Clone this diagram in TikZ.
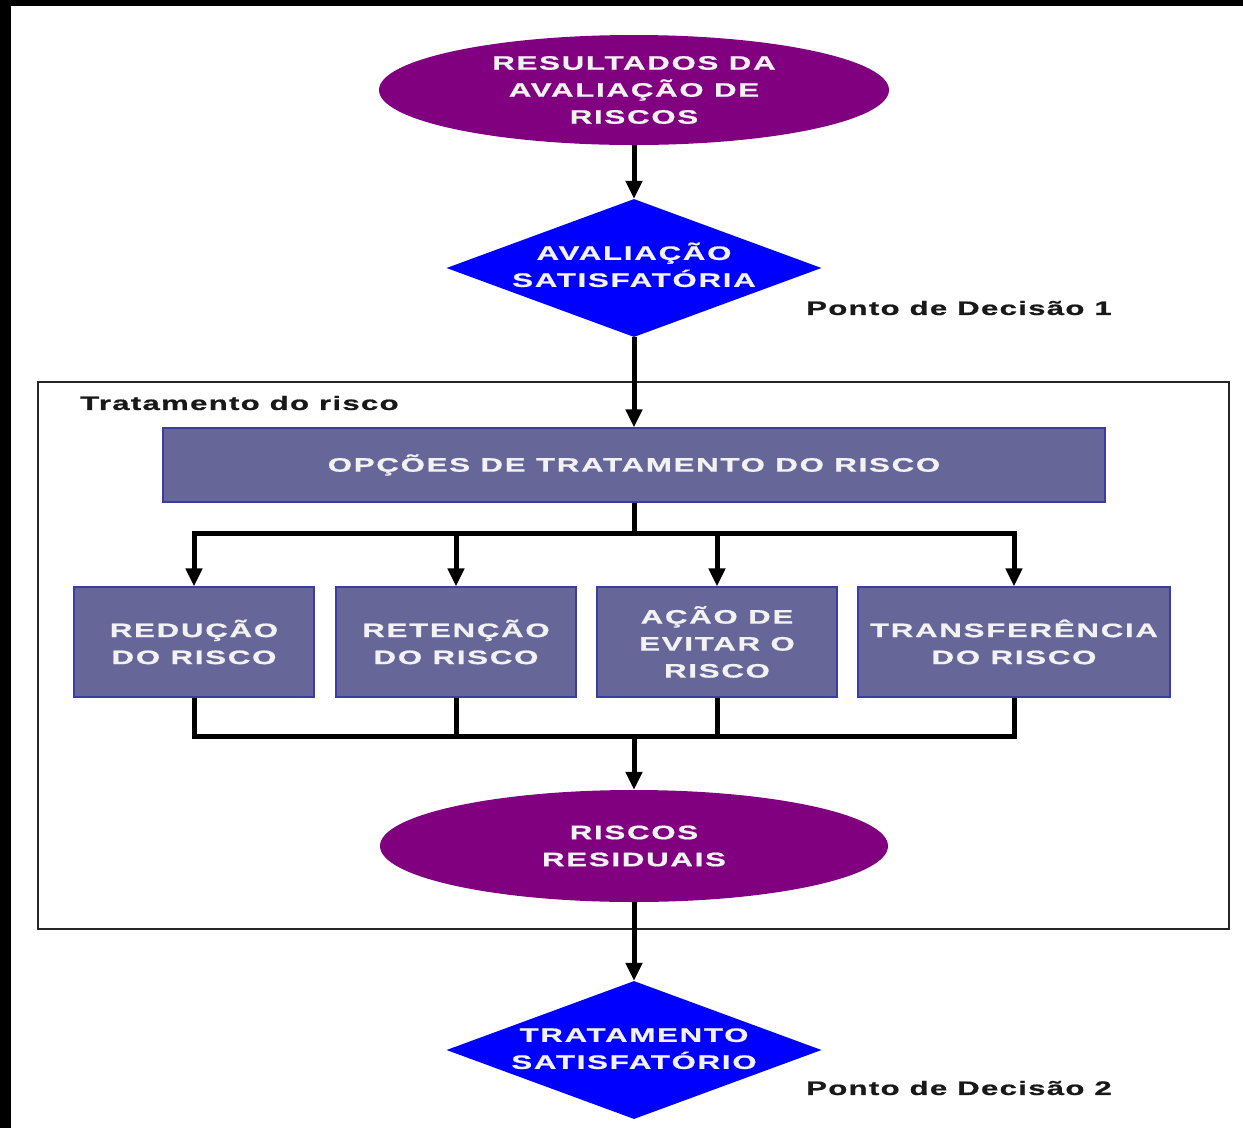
\documentclass[tikz,border=0pt]{standalone}
\usepackage{fontspec}
\setmainfont{Liberation Sans}
\newfontfamily\widefont[FakeStretch=1.6,LetterSpace=9,FakeBold=0.8]{Liberation Sans}
\newfontfamily\notefont[FakeStretch=1.6,LetterSpace=6.5,FakeBold=0.8]{Liberation Sans}
\usetikzlibrary{shapes.geometric,arrows.meta}
\definecolor{plum}{HTML}{800080}
\definecolor{decblue}{HTML}{0000FF}
\definecolor{slate}{HTML}{666699}
\definecolor{slateedge}{HTML}{3C3CA8}
\definecolor{labelwhite}{HTML}{F2F2F2}
\tikzset{
  lbl/.style={font=\widefont\bfseries\fontsize{19.5}{27}\selectfont, text=labelwhite},
  oval/.style={ellipse, fill=plum, minimum width=510pt, minimum height=110pt, inner sep=0pt, lbl, align=center},
  decision/.style={diamond, fill=decblue, minimum width=375pt, minimum height=138pt, inner sep=0pt, lbl},
  option/.style={rectangle, fill=slate, draw=slateedge, line width=1.2pt, inner sep=0pt, minimum height=110pt, lbl, align=center},
  note/.style={font=\notefont\bfseries\fontsize{19.5}{27}\selectfont, text=black!90, inner sep=0pt},
  ln/.style={line width=5pt, draw=black},
  arr/.style={ln, -{Triangle[width=16pt,length=18pt]}},
  framebox/.style={draw=black!85, line width=2pt, fill=none, inner sep=0pt}
}
\newcommand{\twolines}[2]{\makebox[0pt]{\begin{tabular}{@{}c@{}}#1\\#2\end{tabular}}}
\begin{document}
\begin{tikzpicture}[x=1pt,y=-1pt]
  % page and dark edges
  \useasboundingbox (0,0) rectangle (1243,1128);
  \fill[white] (0,0) rectangle (1243,1128);
  \fill[black] (0,0) rectangle (11,1128);
  \fill[black] (0,0) rectangle (1243,6);

  % treatment frame
  \node[framebox, minimum width=1191pt, minimum height=547pt] (frame) at (633.5,655.5) {};
  \node[note, anchor=west] (ttl) at (80,403) {Tratamento do risco};

  % main flow
  \node[oval] (res) at (634,90) {RESULTADOS DA\\AVALIAÇÃO DE\\RISCOS};
  \node[decision] (d1) at (634,268) {\twolines{AVALIAÇÃO}{SATISFATÓRIA}};
  \node[note, anchor=west] (pd1) at (806,308) {Ponto de Decisão 1};

  \node[option, minimum width=942pt, minimum height=74pt] (opt) at (634,465) {OPÇÕES DE TRATAMENTO DO RISCO};

  \node[option, minimum width=240pt] (r1) at (194,642) {REDUÇÃO\\DO RISCO};
  \node[option, minimum width=240pt] (r2) at (456,642) {RETENÇÃO\\DO RISCO};
  \node[option, minimum width=240pt] (r3) at (717,642) {AÇÃO DE\\EVITAR O\\RISCO};
  \node[option, minimum width=312pt] (r4) at (1014,642) {TRANSFERÊNCIA\\DO RISCO};

  \node[oval, minimum height=112pt, minimum width=508pt] (resid) at (634,846) {RISCOS\\RESIDUAIS};
  \node[decision] (d2) at (634,1050) {\twolines{TRATAMENTO}{SATISFATÓRIO}};
  \node[note, anchor=west] (pd2) at (806,1088) {Ponto de Decisão 2};

  % connectors
  \draw[arr] (res.south) -- (d1.north);
  \draw[arr] (d1.south) -- (opt.north);
  \draw[ln] (opt.south) -- ++(0,31) coordinate (split);
  \draw[ln, line cap=rect] (r1.north |- split) -- (r4.north |- split);
  \foreach \b in {r1,r2,r3,r4} {
    \draw[arr] (\b.north |- split) -- (\b.north);
  }
  \coordinate (merge) at (634,736);
  \draw[ln, line join=miter] (r1.south) -- (r1.south |- merge) -- (r4.south |- merge) -- (r4.south);
  \draw[ln] (r2.south) -- (r2.south |- merge);
  \draw[ln] (r3.south) -- (r3.south |- merge);
  \draw[arr] (merge) -- (resid.north);
  \draw[arr] (resid.south) -- (d2.north);
\end{tikzpicture}
\end{document}
